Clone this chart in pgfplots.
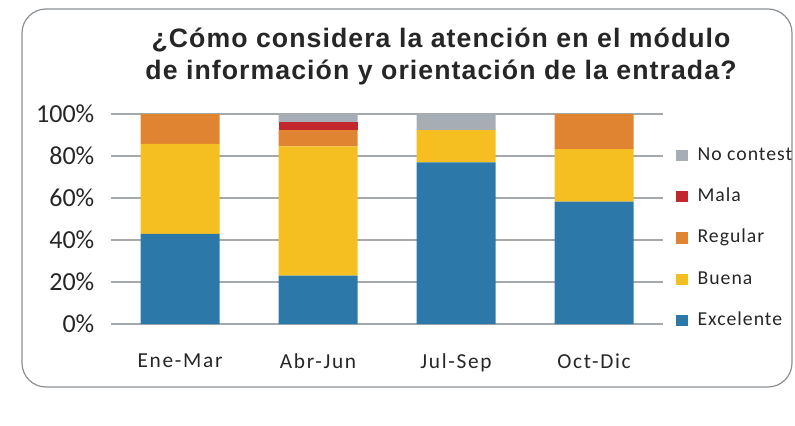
\documentclass[border=0pt]{standalone}
\usepackage{fontspec}
\setmainfont{Carlito}
\newfontfamily\lblfont{Carlito}[LetterSpace=8]
\newfontfamily\legfont{Carlito}[LetterSpace=5]
\newfontfamily\titlefont{Liberation Sans}[LetterSpace=4]
\usepackage{pgfplots}
\pgfplotsset{compat=1.18}
\definecolor{cExc}{HTML}{2C79A9}
\definecolor{cBue}{HTML}{F6BF21}
\definecolor{cReg}{HTML}{E08431}
\definecolor{cMal}{HTML}{C1272D}
\definecolor{cNoc}{HTML}{A7ADB4}
\definecolor{cGrid}{HTML}{A6A9AC}
\definecolor{cTxt}{HTML}{262626}
\definecolor{cBorder}{HTML}{8C9094}
\begin{document}
\begin{tikzpicture}
\useasboundingbox (0,0) rectangle (596.25pt,-318.75pt);
\draw[cBorder, line width=0.9pt, rounded corners=18pt] (16.5pt,-6.75pt) rectangle (594pt,-290.25pt);
\node[font=\titlefont\bfseries\fontsize{20}{24}\selectfont, align=center, text=cTxt] at (330.75pt,-42pt)
  {¿Cómo considera la atención en el módulo\\de información y orientación de la entrada?};
\begin{axis}[
  at={(83.25pt,-243pt)}, anchor=south west,
  scale only axis, width=414pt, height=157.5pt,
  ybar stacked, bar width=59.25pt,
  xmin=-0.5, xmax=3.5, ymin=0, ymax=100,
  xtick={0,1,2,3}, xticklabels={Ene-Mar,Abr-Jun,Jul-Sep,Oct-Dic},
  ytick={0,20,40,60,80,100}, yticklabels={0\%,20\%,40\%,60\%,80\%,100\%},
  axis line style={draw=none},
  ymajorgrids, grid style={cGrid, line width=0.9pt},
  major tick length=0pt,
  yticklabel style={font=\fontsize{19.5}{22}\selectfont, text=cTxt, anchor=east, xshift=-9pt},
  xticklabel style={font=\lblfont\fontsize{16}{19}\selectfont, text=cTxt, yshift=-19pt},
  reverse legend,
  legend image code/.code={\fill[#1] (0pt,-4.25pt) rectangle (8.5pt,4.25pt); \path (16pt,0pt);},
  legend style={draw=none, fill=none, inner sep=0pt, at={(1.0236,0.4095)}, anchor=west,
     font=\legfont\fontsize{14.8}{17}\selectfont, text=cTxt, row sep=18pt,
     nodes={inner sep=0pt, anchor=west, text height=10pt, text depth=3pt}},
]
\addplot[fill=cExc, draw=none] coordinates {(0,42.86) (1,23.08) (2,76.92) (3,58.33)};
\addlegendentry{Excelente}
\addplot[fill=cBue, draw=none] coordinates {(0,42.86) (1,61.54) (2,15.38) (3,25.00)};
\addlegendentry{Buena}
\addplot[fill=cReg, draw=none] coordinates {(0,14.28) (1,7.69) (2,0) (3,16.67)};
\addlegendentry{Regular}
\addplot[fill=cMal, draw=none] coordinates {(0,0) (1,3.85) (2,0) (3,0)};
\addlegendentry{Mala}
\addplot[fill=cNoc, draw=none] coordinates {(0,0) (1,3.84) (2,7.70) (3,0)};
\addlegendentry{No contest}
\end{axis}
\end{tikzpicture}
\end{document}
